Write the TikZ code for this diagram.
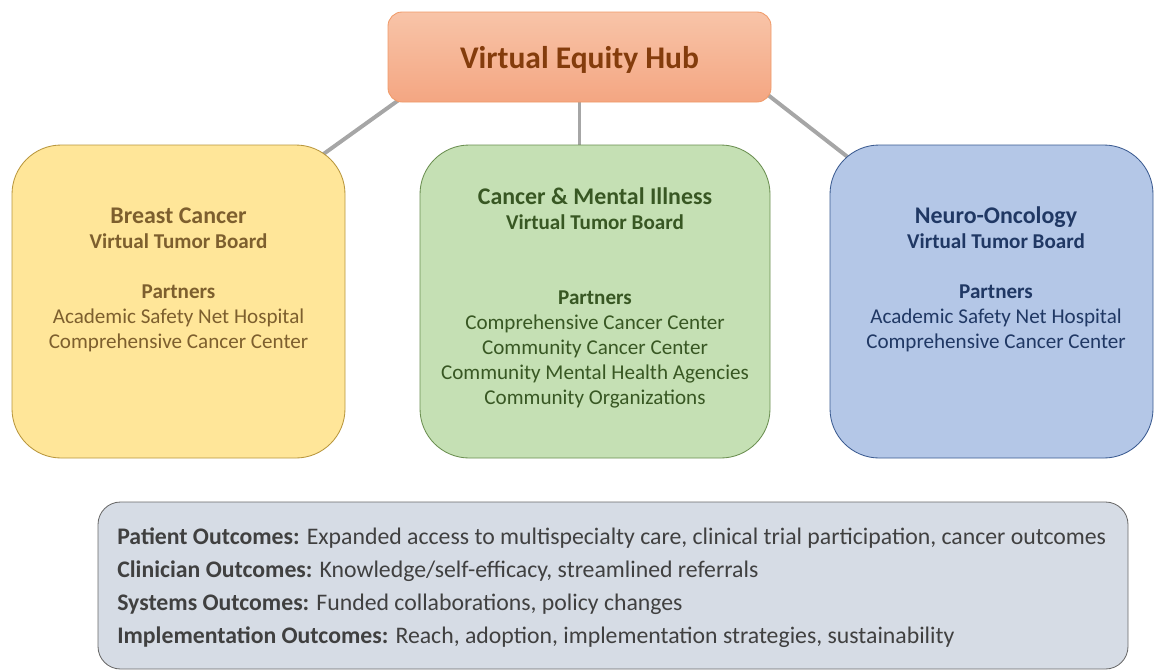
\documentclass[tikz,border=0pt]{standalone}
\usepackage{fontspec}
\setmainfont{Carlito}
\usetikzlibrary{positioning,backgrounds}

% palette
\definecolor{hubtop}{HTML}{F8C4A8}
\definecolor{hubbot}{HTML}{F4A682}
\definecolor{hubline}{HTML}{F09A68}
\definecolor{hubtext}{HTML}{843C0C}
\definecolor{yelfill}{HTML}{FFE699}
\definecolor{yelline}{HTML}{B8963C}
\definecolor{yeltext}{HTML}{7D5F2E}
\definecolor{grnfill}{HTML}{C5E0B4}
\definecolor{grnline}{HTML}{6A8E50}
\definecolor{grntext}{HTML}{385723}
\definecolor{blufill}{HTML}{B4C7E7}
\definecolor{bluline}{HTML}{3A5A90}
\definecolor{blutext}{HTML}{203864}
\definecolor{outfill}{HTML}{D6DCE5}
\definecolor{outline}{HTML}{6A6A6A}
\definecolor{outtext}{HTML}{404040}
\definecolor{linkgray}{HTML}{A6A6A6}

\def\px{0.025cm}

\tikzset{
  board/.style={rounded corners=35pt, line width=0.6pt, inner sep=0pt,
    outer sep=0pt, minimum height=313*\px},
  boardtext/.style={anchor=north, align=center, inner sep=0pt,
    font=\fontsize{15}{17.8}\selectfont},
  link/.style={draw=linkgray, line width=2.8pt},
}
\newcommand{\boardtitle}[1]{{\fontsize{17}{19}\selectfont\bfseries #1}}

\begin{document}
\begin{tikzpicture}[x=\px, y=-\px]
  \useasboundingbox (0,0) rectangle (1154,671);

  % hub on top
  \node[draw=hubline, top color=hubtop, bottom color=hubbot,
    rounded corners=10pt, line width=0.6pt, inner sep=0pt,
    minimum width=383*\px, minimum height=90*\px]
    (hub) at (579.5,57) {};
  \node[text=hubtext, font=\fontsize{22.4}{26}\selectfont\bfseries,
    inner sep=0pt] (hubtxt) at (579.5,60) {Virtual Equity Hub};

  % three tumor boards
  \node[board, draw=yelline, fill=yelfill, minimum width=333*\px]
    (breast) at (178.5,301.5) {};
  \node[board, draw=grnline, fill=grnfill, minimum width=350*\px]
    (mental) at (595,301.5) {};
  \node[board, draw=bluline, fill=blufill, minimum width=323*\px]
    (neuro) at (991.5,301.5) {};

  \node[boardtext, text=yeltext] (breasttxt) at (178.5,207.5)
    {\boardtitle{Breast Cancer}\\
     \textbf{Virtual Tumor Board}\\[18pt]
     \textbf{Partners}\\
     Academic Safety Net Hospital\\
     Comprehensive Cancer Center};
  \node[boardtext, text=grntext] (mentaltxt) at (595,187)
    {\boardtitle{Cancer \& Mental Illness}\\
     \textbf{Virtual Tumor Board}\\[36pt]
     \textbf{Partners}\\
     Comprehensive Cancer Center\\
     Community Cancer Center\\
     Community Mental Health Agencies\\
     Community Organizations};
  \node[boardtext, text=blutext] (neurotxt) at (996,206.5)
    {\boardtitle{Neuro-Oncology}\\
     \textbf{Virtual Tumor Board}\\[18pt]
     \textbf{Partners}\\
     Academic Safety Net Hospital\\
     Comprehensive Cancer Center};

  % links behind the boxes
  \begin{pgfonlayer}{background}
    \draw[link] ([shift={(37,-21)}]hub.south west)
      -- ([shift={(-41,23)}]breast.north east);
    \draw[link] (hub.south) -- (hub.south |- mental.north);
    \draw[link] ([shift={(-26,-25)}]hub.south east)
      -- ([shift={(37,27)}]neuro.north west);
  \end{pgfonlayer}

  % outcomes panel
  \node[draw=outline, fill=outfill, rounded corners=16pt, line width=0.6pt,
    inner sep=0pt, minimum width=1030*\px, minimum height=167*\px]
    (outcomes) at (613,585.5) {};
  \node[anchor=west, align=left, inner sep=0pt, text=outtext,
    font=\fontsize{16.9}{23.5}\selectfont]
    (outcomestxt) at (117,588)
    {\textbf{Patient Outcomes:} Expanded access to multispecialty care, clinical trial participation, cancer outcomes\\
     \textbf{Clinician Outcomes:} Knowledge/self-efficacy, streamlined referrals\\
     \textbf{Systems Outcomes:} Funded collaborations, policy changes\\
     \textbf{Implementation Outcomes:} Reach, adoption, implementation strategies, sustainability};
\end{tikzpicture}
\end{document}
